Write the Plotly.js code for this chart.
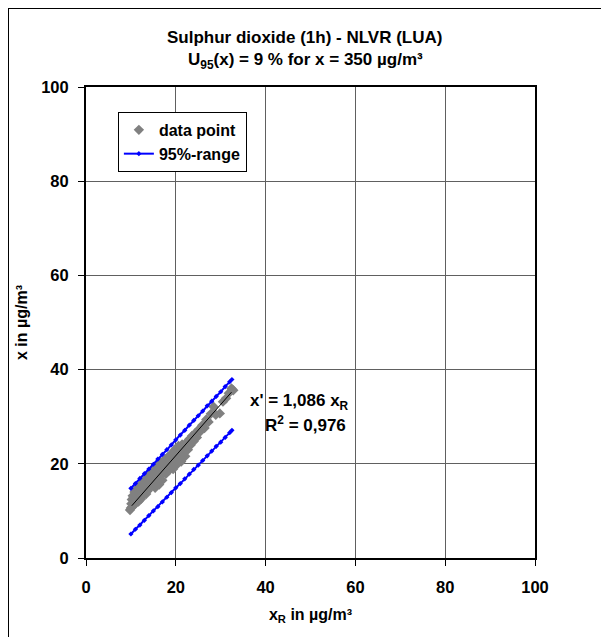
<!DOCTYPE html>
<html>
<head>
<meta charset="utf-8">
<script src="https://cdn.plot.ly/plotly-3.0.1.min.js"></script>
<style>
html,body{margin:0;padding:0;background:#fff;}
#wrap{position:relative;width:601px;height:637px;overflow:hidden;}
#chart{width:601px;height:637px;}
#frame{position:absolute;left:8px;top:8px;width:800px;height:800px;border-left:1px solid #000;border-top:1px solid #000;pointer-events:none;}
</style>
</head>
<body>
<div id="wrap"><div id="chart"></div><div id="frame"></div></div>
<script>
// measured data points (x_R, x)
const dataX = [9.8,10.0,10.1,10.2,10.3,10.4,10.5,10.6,10.8,10.9,11.0,11.1,11.2,11.3,11.4,11.5,11.6,11.7,11.8,11.9,
12.0,12.1,12.2,12.3,12.4,12.5,12.6,12.7,12.8,12.9,13.0,13.1,13.2,13.3,13.4,13.5,13.6,13.7,13.8,13.9,
14.0,14.2,14.3,14.4,14.5,14.6,14.8,14.9,15.0,15.1,15.2,15.4,15.5,15.6,15.8,15.9,16.0,16.2,16.3,16.4,
16.6,16.7,16.9,17.0,17.2,17.3,17.5,17.7,17.8,18.0,18.2,18.3,18.5,18.7,18.9,19.0,19.2,19.4,19.5,19.7,
19.9,20.0,20.2,20.4,20.6,20.8,21.0,21.2,21.4,21.6,21.9,22.1,22.4,22.7,23.0,23.3,23.6,24.0,24.3,24.7,
25.1,25.5,25.9,26.4,26.8,27.3,27.8,28.4,28.9,29.8,30.5,31.2,31.8,32.4,32.8];
const dataY = [10.2,10.6,11.5,12.4,10.9,13.2,11.8,12.9,14.0,11.4,12.6,13.7,11.9,14.5,12.3,13.1,15.0,12.0,13.9,12.7,
14.8,13.3,12.5,15.6,14.1,13.0,16.0,14.6,13.5,15.2,13.9,16.4,14.4,15.5,13.6,16.9,15.0,14.2,17.2,15.8,
14.6,16.5,17.8,15.2,16.0,18.1,15.5,17.0,15.9,18.6,16.8,14.9,17.5,19.2,16.3,18.0,19.8,17.1,15.6,18.7,
20.2,17.6,19.1,16.5,20.6,18.4,19.5,21.0,17.9,20.1,19.0,21.5,18.6,20.8,22.0,19.6,21.3,18.9,22.6,20.4,
23.1,21.7,19.8,22.4,23.8,21.2,22.9,20.5,24.1,22.3,23.5,21.6,24.6,23.0,25.2,24.0,25.9,24.8,26.5,25.6,
27.3,26.9,28.2,27.6,29.4,28.9,30.6,32.1,30.4,30.7,33.2,33.9,35.0,36.0,35.6];

// 95%-range bounds
const rangeX = [10,11,12,13,14,15,16,17,18,19,20,21,22,23,24,25,26,27,28,29,30,31,32,32.5];
const upperY = [14.8,15.8,16.9,17.9,18.9,19.9,21.0,22.0,23.0,24.0,25.1,26.1,27.1,28.2,29.2,30.2,31.2,32.3,33.3,34.3,35.3,36.4,37.4,37.9];
const lowerY = [5.1,6.1,7.0,8.0,9.0,10.0,10.9,11.9,12.9,13.9,14.9,15.8,16.8,17.8,18.8,19.7,20.7,21.7,22.7,23.7,24.6,25.6,26.6,27.1];

// regression line x' = 1,086 x_R
const regX = [10.2, 32.4];
const regY = [11.1, 35.2];

const tickVals = [0,20,40,60,80,100];
const tickText = ['0','20','40','60','80','100'];

const FONT = 'Liberation Sans, Arial, Helvetica, sans-serif';
const blue = '#0000ff';
const TXT = 17;

const traces = [
  {x: dataX, y: dataY, type:'scatter', mode:'markers', name:'data point',
   marker:{symbol:'diamond', size:8, color:'#808080'}},
  {x: rangeX, y: upperY, type:'scatter', mode:'lines+markers', name:'95%-range',
   line:{color:blue, width:2}, marker:{symbol:'diamond', size:4, color:blue}},
  {x: rangeX, y: lowerY, type:'scatter', mode:'lines+markers', name:'95%-range lower', showlegend:false,
   line:{color:blue, width:2}, marker:{symbol:'diamond', size:4, color:blue}},
  {x: regX, y: regY, type:'scatter', mode:'lines', showlegend:false,
   line:{color:'#000', width:1}}
];

const axisCommon = {
  range:[0,100], tickvals:tickVals, ticktext:tickText,
  showgrid:true, gridcolor:'#606060', gridwidth:1,
  zeroline:false, showline:true, linecolor:'#000', linewidth:2, mirror:true,
  ticks:'outside', ticklen:6, tickcolor:'#000', tickwidth:1,
  tickfont:{family:FONT, size:16.5, color:'#000', weight:700},
  fixedrange:true, automargin:false
};

const layout = {
  width:601, height:637,
  margin:{l:86, r:66, t:87, b:79},
  paper_bgcolor:'#fff', plot_bgcolor:'#fff',
  showlegend:true,
  font:{family:FONT, color:'#000'},
  title:{text:'Sulphur dioxide (1h) - NLVR (LUA)', font:{family:FONT, size:TXT, color:'#000', weight:700},
         x:0.507, xanchor:'center', y:1-37/637, yanchor:'middle', xref:'container', yref:'container'},
  xaxis: Object.assign({}, axisCommon, {
    ticklabelstandoff:7,
    title:{text:'x<sub>R</sub> in µg/m³', font:{family:FONT, size:16, color:'#000', weight:700}, standoff:14}
  }),
  yaxis: Object.assign({}, axisCommon, {
    ticklabelstandoff:6,
    title:{text:'x in µg/m³', font:{family:FONT, size:16, color:'#000', weight:700}, standoff:10}
  }),
  legend:{x:0.071, y:0.947, xanchor:'left', yanchor:'top', bgcolor:'#fff', bordercolor:'#000', borderwidth:1,
          font:{family:FONT, size:16, color:'#000', weight:700}, tracegroupgap:0, itemwidth:30},
  annotations:[
    {text:'U<sub>95</sub>(x) = 9 % for x = 350 µg/m³', xref:'paper', yref:'paper', x:0.488, y:(558-61)/471,
     xanchor:'center', yanchor:'middle', showarrow:false, font:{family:FONT, size:TXT, color:'#000', weight:700}},
    {text:"x' = 1,086 x<sub>R</sub>", xref:'paper', yref:'paper', x:(248-86)/449, y:(558-402)/471,
     xanchor:'left', yanchor:'middle', showarrow:false, font:{family:FONT, size:TXT, color:'#000', weight:700}},
    {text:'R<sup>2</sup> = 0,976', xref:'paper', yref:'paper', x:(263-86)/449, y:(558-424)/471,
     xanchor:'left', yanchor:'middle', showarrow:false, font:{family:FONT, size:TXT, color:'#000', weight:700}}
  ]
};

Plotly.newPlot('chart', traces, layout, {staticPlot:true, displayModeBar:false});
</script>
</body>
</html>
